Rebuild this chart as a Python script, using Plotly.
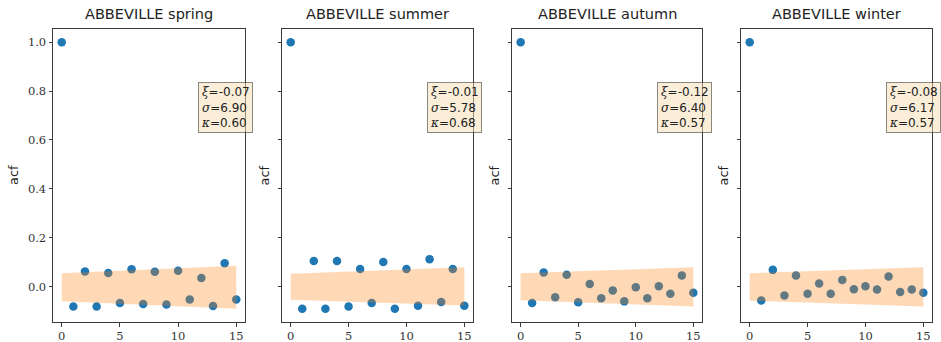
import plotly.graph_objects as go

station = "ABBEVILLE"
seasons = ["spring", "summer", "autumn", "winter"]
lags = list(range(16))

acf_spring = [1.0, -0.082, 0.061, -0.082, 0.055, -0.068, 0.071, -0.072,
              0.060, -0.074, 0.064, -0.053, 0.035, -0.080, 0.095, -0.053]
acf_summer = [1.0, -0.091, 0.104, -0.091, 0.104, -0.082, 0.072, -0.068,
              0.100, -0.091, 0.072, -0.079, 0.112, -0.064, 0.072, -0.079]
acf_autumn = [1.0, -0.068, 0.057, -0.044, 0.048, -0.065, 0.010, -0.048,
              -0.016, -0.061, -0.003, -0.048, 0.001, -0.030, 0.045, -0.026]
acf_winter = [1.0, -0.057, 0.068, -0.037, 0.045, -0.030, 0.012, -0.030,
              0.027, -0.011, 0.001, -0.012, 0.041, -0.023, -0.012, -0.026]

# confidence band end points (lag 0 and lag 15)
band_lags = [0, 15]
band_upper_spring = [0.054, 0.085]
band_lower_spring = [-0.061, -0.091]
band_upper_summer = [0.052, 0.079]
band_lower_summer = [-0.054, -0.078]
band_upper_autumn = [0.054, 0.079]
band_lower_autumn = [-0.056, -0.082]
band_upper_winter = [0.054, 0.079]
band_lower_winter = [-0.058, -0.082]

# fitted parameters per season
xi_vals = [-0.07, -0.01, -0.12, -0.08]
sigma_vals = [6.90, 5.78, 6.40, 6.17]
kappa_vals = [0.60, 0.68, 0.57, 0.57]

acfs = [acf_spring, acf_summer, acf_autumn, acf_winter]
uppers = [band_upper_spring, band_upper_summer, band_upper_autumn, band_upper_winter]
lowers = [band_lower_spring, band_lower_summer, band_lower_autumn, band_lower_winter]

W, H = 941, 342
x_domains_px = [(53, 245), (282, 473), (512, 702), (741, 932)]
y_top_px, y_bot_px = 29, 322

BLUE = "#1f77b4"
BAND = "rgba(255,127,14,0.3)"
FRAME = "#3a3a3a"

fig = go.Figure()
layout = dict(
    width=W, height=H,
    margin=dict(l=0, r=0, t=0, b=0),
    paper_bgcolor="white", plot_bgcolor="white",
    showlegend=False,
    annotations=[],
)

for i, season in enumerate(seasons):
    n = i + 1
    xa = "x" if n == 1 else f"x{n}"
    ya = "y" if n == 1 else f"y{n}"
    x0, x1 = x_domains_px[i]

    fig.add_trace(go.Scatter(
        x=lags, y=acfs[i], mode="markers", xaxis=xa, yaxis=ya,
        marker=dict(color=BLUE, size=8.5, line=dict(width=0)),
        hoverinfo="skip",
    ))
    # band polygon: upper edge forward, lower edge back
    poly_x = band_lags + band_lags[::-1]
    poly_y = uppers[i] + lowers[i][::-1]
    fig.add_trace(go.Scatter(
        x=poly_x, y=poly_y, mode="none", fill="toself", fillcolor=BAND,
        xaxis=xa, yaxis=ya, hoverinfo="skip",
    ))

    axis_common = dict(
        showline=True, linecolor=FRAME, linewidth=1, mirror=True,
        showgrid=False, zeroline=False,
        ticks="outside", ticklen=3.5, tickwidth=1, tickcolor=FRAME,
        tickfont=dict(family="DejaVu Serif", size=11.5, color="#333"),
    )
    layout["xaxis" if n == 1 else f"xaxis{n}"] = dict(
        axis_common, domain=[x0 / W, x1 / W], range=[-0.75, 15.75],
        tickvals=[0, 5, 10, 15], anchor=ya,
    )
    layout["yaxis" if n == 1 else f"yaxis{n}"] = dict(
        axis_common, domain=[1 - y_bot_px / H, 1 - y_top_px / H],
        range=[-0.1455, 1.0545], tickvals=[0.0, 0.2, 0.4, 0.6, 0.8, 1.0],
        tickformat=".1f", showticklabels=(n == 1), anchor=xa,
    )

    # subplot title
    layout["annotations"].append(dict(
        text=f"{station} {season}", xref="paper", yref="paper",
        x=(x0 + x1) / 2 / W, y=1 - 14 / H, xanchor="center", yanchor="middle",
        showarrow=False, font=dict(family="DejaVu Sans", size=14.5, color="#222"),
    ))
    # y-axis label
    off = 39.5 if n == 1 else 18
    layout["annotations"].append(dict(
        text="acf", xref="paper", yref="paper", textangle=-90,
        x=(x0 - off) / W, y=1 - 175.5 / H, xanchor="center", yanchor="middle",
        showarrow=False, font=dict(family="DejaVu Sans", size=13, color="#222"),
    ))
    # parameter box
    greek = lambda g: f"<span style=\"font-family:'DejaVu Serif'\"><i>{g}</i></span>"
    txt = (f"{greek('ξ')}={xi_vals[i]:.2f}<br>"
           f"{greek('σ')}={sigma_vals[i]:.2f}<br>"
           f"{greek('κ')}={kappa_vals[i]:.2f}")
    layout["annotations"].append(dict(
        text=txt, xref=f"{xa} domain", yref=f"{ya} domain",
        x=(198 - x0) / (x1 - x0) if n == 1 else (198 + (x0 - 53) - x0) / (x1 - x0),
        y=(y_bot_px - 82) / (y_bot_px - y_top_px),
        xanchor="left", yanchor="top", align="left", showarrow=False,
        bgcolor="rgba(245,222,179,0.5)", bordercolor="rgba(0,0,0,0.45)",
        borderwidth=1, borderpad=2,
        font=dict(family="DejaVu Sans", size=12, color="#222"),
    ))

fig.update_layout(**layout)
fig.write_html("out.html")
